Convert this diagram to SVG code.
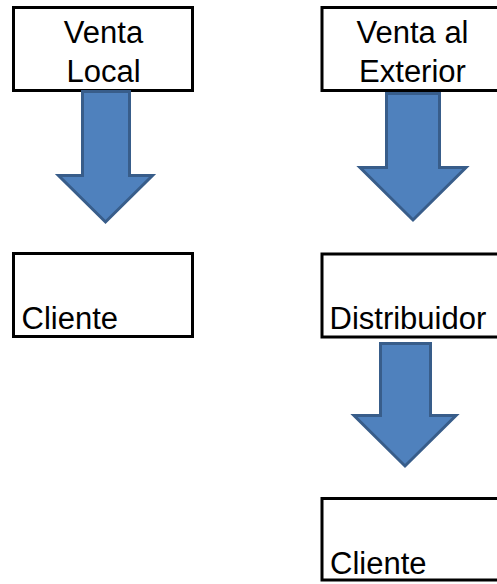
<svg xmlns="http://www.w3.org/2000/svg" width="497" height="584" viewBox="0 0 497 584">
<style>
.box{fill:#fff;stroke:#000;stroke-width:3}
.arrow{fill:#4F81BD;stroke:#385D8A;stroke-width:3;stroke-linejoin:miter}
.t{font-family:"Liberation Sans",Arial,sans-serif;font-size:31px;fill:#000}
.c{text-anchor:middle}
</style>
<rect width="497" height="584" fill="#fff"/>
<g id="venta-local">
<rect class="box" x="13.5" y="7.5" width="179" height="83"/>
<text class="t c" x="103.5" y="42.5">Venta</text>
<text class="t c" x="103.5" y="82">Local</text>
</g>
<g id="venta-exterior">
<rect class="box" x="322" y="7.5" width="179" height="83"/>
<text class="t c" x="412.5" y="42.5">Venta al</text>
<text class="t c" x="412.5" y="82">Exterior</text>
</g>
<g id="cliente-local">
<rect class="box" x="13.5" y="253.5" width="179" height="83"/>
<text class="t" x="21.5" y="329">Cliente</text>
</g>
<g id="distribuidor">
<rect class="box" x="322" y="254" width="179" height="83"/>
<text class="t" x="329.5" y="329">Distribuidor</text>
</g>
<g id="cliente-exterior">
<rect class="box" x="322" y="498.5" width="179" height="81.5"/>
<text class="t" x="330" y="574">Cliente</text>
</g>
<g id="connectors">
<path class="arrow" d="M82.5,91.5 H129.5 V175.5 H152.5 L105.5,222 L58.5,175.5 H82.5 Z"/>
<path class="arrow" d="M386.5,93.5 H439.5 V167.5 H466 L413,220 L360,167.5 H386.5 Z"/>
<path class="arrow" d="M380.5,343.5 H430.5 V415.5 H456 L405,466 L354,415.5 H380.5 Z"/>
</g>
</svg>
